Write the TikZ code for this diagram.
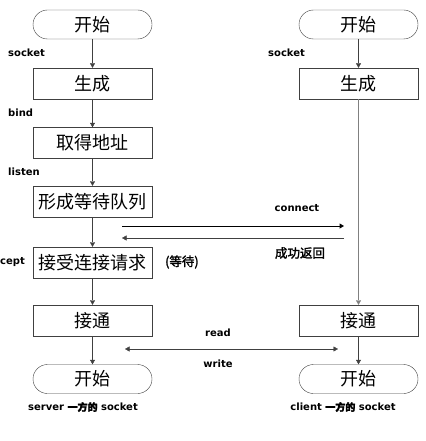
\documentclass[tikz,border=0pt]{standalone}
\usepackage{fontspec}
\setmainfont{DejaVu Sans}
\newfontfamily\cjk{Noto Sans CJK SC}
\newfontfamily\cjkb{Noto Sans CJK SC}[FakeBold=2]
\usetikzlibrary{arrows.meta,positioning}
\definecolor{LineGray}{HTML}{404040}

\begin{document}
\begin{tikzpicture}[x=1pt, y=-1pt,
  box/.style={draw=LineGray, fill=white, minimum width=119pt, minimum height=31pt, inner sep=0pt, font=\cjk\fontsize{18}{18}\selectfont},
  term/.style={box, rounded corners=14.5pt, minimum height=29pt},
  lbl/.style={font=\bfseries\fontsize{10}{12}\selectfont, inner sep=0pt},
  clbl/.style={font=\cjkb\fontsize{12.5}{13}\selectfont, inner sep=0pt},
  arr/.style={-{Triangle[length=4.5pt,width=5pt]}, LineGray},
  darr/.style={{Triangle[length=4.5pt,width=5pt]}-{Triangle[length=4.5pt,width=5pt]}, LineGray}
]
\useasboundingbox (0,0) rectangle (425,441);
% server side
\node[term] (sstart) at (92.5,24.5) {开始};
\node[box] (screate) at (92.5,83.5) {生成};
\node[box] (sbind) at (92.5,143) {取得地址};
\node[box] (slisten) at (92.5,201.5) {形成等待队列};
\node[box] (saccept) at (92.5,262.5) {接受连接请求};
\node[box] (sconn) at (92.5,320.5) {接通};
\node[term] (send) at (92.5,379) {开始};
% client side
\node[term] (cstart) at (358.5,24.5) {开始};
\node[box] (ccreate) at (358.5,83.5) {生成};
\node[box] (cconn) at (358.5,320.5) {接通};
\node[term] (cend) at (358.5,379) {开始};
% flow
\draw[arr] (sstart) -- (screate);
\draw[arr] (screate) -- (sbind);
\draw[arr] (sbind) -- (slisten);
\draw[arr] (slisten) -- (saccept);
\draw[arr] (saccept) -- (sconn);
\draw[arr] (sconn) -- (send);
\draw[arr] (cstart) -- (ccreate);
\draw[arr, gray] (ccreate) -- (cconn);
\draw[arr] (cconn) -- (cend);
% messages
\coordinate (cl) at (122,226);
\coordinate (cr) at (344,226);
\coordinate (rl) at (122,238);
\coordinate (rr) at (344,238);
\coordinate (wl) at (125,349);
\coordinate (wr) at (338,349);
\draw[arr, black, line width=1pt] (cl) -- (cr);
\draw[arr] (rr) -- (rl);
\draw[darr] (wl) -- (wr);
% labels
\node[lbl, anchor=west] (lsock) at (8,53) {socket};
\node[lbl, anchor=west] (lbind) at (8,113) {bind};
\node[lbl, anchor=west] (llisten) at (8,172) {listen};
\node[lbl, anchor=west] (laccept) at (0,262) {cept};
\node[clbl, anchor=west] (lwait) at (165,262) {(等待)};
\node[lbl, anchor=west] (csock) at (268,53) {socket};
\node[lbl] (lconnect) at (297,208) {connect};
\node[clbl] (lreturn) at (300,253) {成功返回};
\node[lbl] (lread) at (218,333) {read};
\node[lbl] (lwrite) at (218,364) {write};
\node[lbl] (sname) at (83,407) {server {\cjkb 一方的} socket};
\node[lbl] (cname) at (343,407) {client {\cjkb 一方的} socket};
\end{tikzpicture}
\end{document}
